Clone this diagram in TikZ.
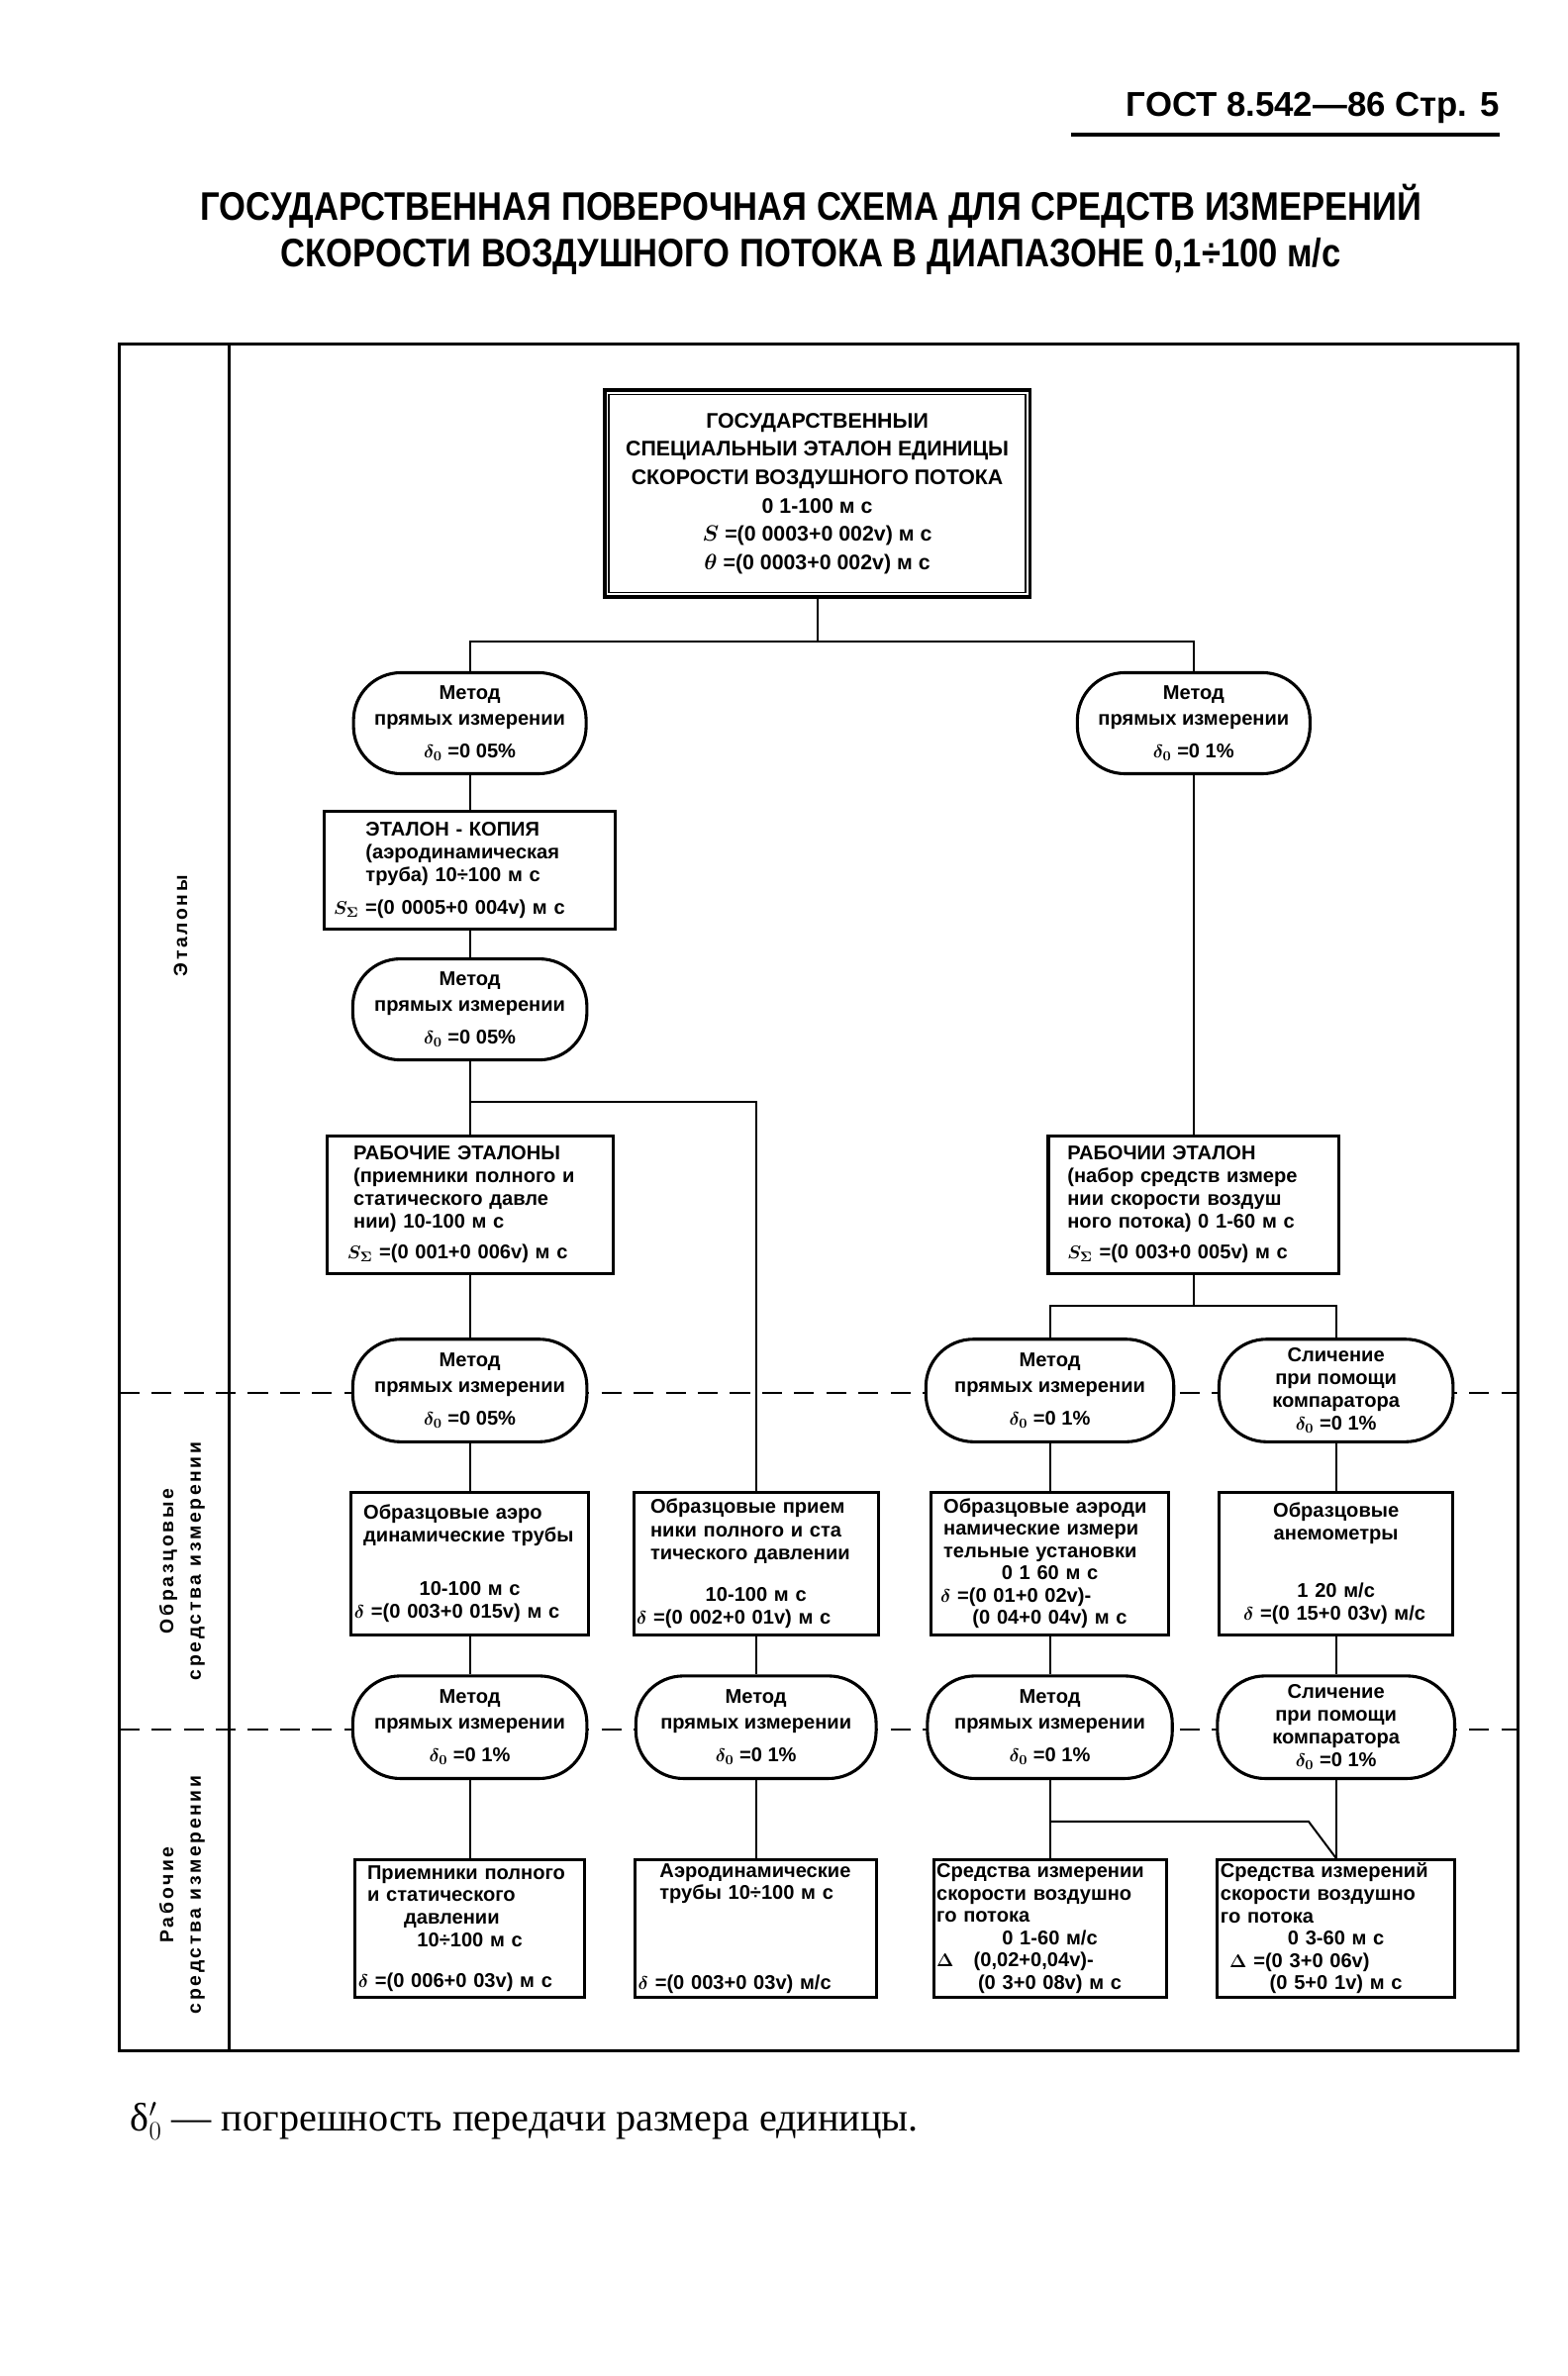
\documentclass[tikz,border=0pt]{standalone}
\usepackage{fontspec}
\setmainfont{Liberation Sans}
\newfontfamily\titlefont{Liberation Sans}[FakeStretch=0.86]
\newfontfamily\footfont{Liberation Serif}
\newfontfamily\labfont{Liberation Sans}[LetterSpace=14]
\newcommand\ctr[1]{\makebox[\hsize][c]{#1}}
\newcommand\bxfont{\fontsize{13}{15}\selectfont\bfseries\boldmath}
\newcommand\bxtight{\fontsize{13}{14.6}\selectfont\bfseries\boldmath}
\newcommand\ovfont{\fontsize{13}{16.5}\selectfont\bfseries\boldmath}
\newcommand\ovtight{\fontsize{13}{14.8}\selectfont\bfseries\boldmath}
\newcommand\topfont{\fontsize{13.8}{18.5}\selectfont\bfseries\boldmath}
\newcommand\labelfont{\labfont\bfseries\fontsize{12.5}{18}\selectfont}
\begin{document}
\begin{tikzpicture}[x=1pt,y=-1pt,
 frame/.style={line width=2pt},
 dashline/.style={line width=1.6pt, dash pattern=on 13pt off 8pt},
 conn/.style={line width=1.3pt},
 bx/.style={draw, rectangle, line width=2pt, fill=white, inner sep=2pt, align=left, font=\bxfont},
 ov/.style={draw, rectangle, rounded corners=31pt, line width=2pt, fill=white, inner sep=0pt, align=center, font=\ovfont, minimum height=66pt},
 topbox/.style={draw, rectangle, line width=2.4pt, fill=white, align=center, font=\topfont, minimum width=278pt, minimum height=135pt},
 rot/.style={rotate=90, align=center, font=\labelfont}
]
\fill[white] (0,0) rectangle (1024,1552.4);
\useasboundingbox (0,0) rectangle (1024,1552.4);

% header
\node[anchor=base east, font=\fontsize{22.5}{24}\selectfont\bfseries, inner sep=0pt] (hdr) at (980,76) {ГОСТ 8.542—86 Стр. 5};
\draw[line width=2.5pt] (700,88) -- (980,88);

% title
\node[align=center, font=\titlefont\bfseries\fontsize{26}{30}\selectfont] (title) at (530,150)
 {ГОСУДАРСТВЕННАЯ ПОВЕРОЧНАЯ СХЕМА ДЛЯ СРЕДСТВ ИЗМЕРЕНИЙ\\СКОРОСТИ ВОЗДУШНОГО ПОТОКА В ДИАПАЗОНЕ 0,1÷100 м/с};

% frame
\draw[frame] (78,225) rectangle (992,1340);
\draw[frame] (150,225) -- (150,1340);
\draw[dashline] (78,910) -- (992,910);
\draw[dashline] (78,1130) -- (992,1130);

% column labels
\node[rot] (lab1) at (118,605) {Эталоны};
\node[rot] (lab2) at (119,1020) {Образцовые\\средства измерении};
\node[rot] (lab3) at (119,1238) {Рабочие\\средства измерении};

% top box
\node[topbox] (top) at (534,322.5) {ГОСУДАРСТВЕННЫИ\\СПЕЦИАЛЬНЫИ ЭТАЛОН ЕДИНИЦЫ\\СКОРОСТИ ВОЗДУШНОГО ПОТОКА\\0 1-100 м с\\$S$ =(0 0003+0 002v) м с\\$\theta$ =(0 0003+0 002v) м с};
\draw[line width=1pt] ([shift={(4,4)}]top.north west) rectangle ([shift={(-4,-4)}]top.south east);

% level 1
\node[ov, minimum width=152pt] (ovA) at (307,472.5) {Метод\\прямых измерении\\[5pt]$\delta_0$ =0 05\%};
\node[ov, minimum width=152pt] (ovB) at (780,472.5) {Метод\\прямых измерении\\[5pt]$\delta_0$ =0 1\%};

\node[bx, minimum width=190pt, minimum height=77pt, text width=184pt] (ek) at (307,568.5)
 {\hspace*{24pt}ЭТАЛОН - КОПИЯ\\\hspace*{24pt}(аэродинамическая\\\hspace*{24pt}труба) 10÷100 м с\\[6pt]\hspace*{3pt}\mbox{$S_\Sigma$ =(0 0005+0 004v) м с}};

\node[ov, minimum width=153pt] (ovC) at (307,659.5) {Метод\\прямых измерении\\[5pt]$\delta_0$ =0 05\%};

\node[bx, minimum width=187pt, minimum height=90pt, text width=182pt] (re) at (307,787)
 {\hspace*{15pt}РАБОЧИЕ ЭТАЛОНЫ\\\hspace*{15pt}(приемники полного и\\\hspace*{15pt}статического давле\\\hspace*{15pt}нии) 10-100 м с\\[5pt]\hspace*{11pt}\mbox{$S_\Sigma$ =(0 001+0 006v) м с}};

\node[bx, minimum width=190pt, minimum height=90pt, text width=185pt] (rw) at (780,787)
 {\hspace*{10pt}РАБОЧИИ ЭТАЛОН\\\hspace*{10pt}(набор средств измере\\\hspace*{10pt}нии скорости воздуш\\\hspace*{10pt}\mbox{ного потока) 0 1-60 м с}\\[5pt]\hspace*{10pt}\mbox{$S_\Sigma$ =(0 003+0 005v) м с}};

% level 2 ovals
\node[ov, minimum width=153pt, minimum height=67pt] (o21) at (307,908.5) {Метод\\прямых измерении\\[5pt]$\delta_0$ =0 05\%};
\node[ov, minimum width=162pt, minimum height=67pt] (o22) at (686,908.5) {Метод\\прямых измерении\\[5pt]$\delta_0$ =0 1\%};
\node[ov, minimum width=153pt, minimum height=67pt, font=\ovtight] (o23) at (873,908.5) {Сличение\\при помощи\\компаратора\\$\delta_0$ =0 1\%};

% level 2 boxes
\node[bx, minimum width=155pt, minimum height=93pt, text width=151pt] (b1) at (307,1021.5)
 {\hspace*{6pt}Образцовые аэро\\\hspace*{6pt}динамические трубы\\[20pt]\ctr{10-100 м с}\\\mbox{$\delta$ =(0 003+0 015v) м с}};
\node[bx, minimum width=160pt, minimum height=93pt, text width=156pt] (b2) at (494,1021.5)
 {\hspace*{9pt}Образцовые прием\\\hspace*{9pt}ники полного и ста\\\hspace*{9pt}тического давлении\\[12pt]\ctr{10-100 м с}\\\mbox{$\delta$ =(0 002+0 01v) м с}};
\node[bx, minimum width=155pt, minimum height=93pt, text width=151pt, font=\bxtight] (b3) at (686,1021.5)
 {\hspace*{6pt}Образцовые аэроди\\\hspace*{6pt}намические измери\\\hspace*{6pt}тельные установки\\\ctr{0 1 60 м с}\\\hspace*{4pt}\mbox{$\delta$ =(0 01+0 02v)-}\\\ctr{(0 04+0 04v) м с}};
\node[bx, minimum width=153pt, minimum height=93pt, text width=149pt] (b4) at (873,1021.5)
 {\ctr{Образцовые}\\\ctr{анемометры}\\[22pt]\ctr{1 20 м/с}\\\hspace*{14pt}\mbox{$\delta$ =(0 15+0 03v) м/с}};

% level 3 ovals
\node[ov, minimum width=153pt, minimum height=67pt] (o31) at (307,1128.5) {Метод\\прямых измерении\\[5pt]$\delta_0$ =0 1\%};
\node[ov, minimum width=157pt, minimum height=67pt] (o32) at (494,1128.5) {Метод\\прямых измерении\\[5pt]$\delta_0$ =0 1\%};
\node[ov, minimum width=160pt, minimum height=67pt] (o33) at (686,1128.5) {Метод\\прямых измерении\\[5pt]$\delta_0$ =0 1\%};
\node[ov, minimum width=155pt, minimum height=67pt, font=\ovtight] (o34) at (873,1128.5) {Сличение\\при помощи\\компаратора\\$\delta_0$ =0 1\%};

% level 3 boxes
\node[bx, minimum width=150pt, minimum height=90pt, text width=146pt, font=\bxtight] (c1) at (307,1260)
 {\hspace*{6pt}Приемники полного\\\hspace*{6pt}и статического\\\hspace*{30pt}давлении\\\ctr{10÷100 м с}\\[12pt]\mbox{$\delta$ =(0 006+0 03v) м с}};
\node[bx, minimum width=158pt, minimum height=90pt, text width=154pt, font=\bxtight] (c2) at (494,1260)
 {\hspace*{14pt}Аэродинамические\\\hspace*{14pt}трубы 10÷100 м с\\[44pt]\mbox{$\delta$ =(0 003+0 03v) м/с}};
\node[bx, minimum width=152pt, minimum height=90pt, text width=148pt, font=\bxtight] (c3) at (686,1260)
 {Средства измерении\\скорости воздушно\\го потока\\\ctr{0 1-60 м/с}\\\mbox{$\Delta$\quad(0,02+0,04v)-}\\\ctr{(0 3+0 08v) м с}};
\node[bx, minimum width=155pt, minimum height=90pt, text width=151pt, font=\bxtight] (c4) at (873,1260)
 {Средства измерений\\скорости воздушно\\го потока\\\ctr{0 3-60 м с}\\\hspace*{6pt}$\Delta$ =(0 3+0 06v)\\\ctr{(0 5+0 1v) м с}};

% connectors
\path (top.south) ++(0,28) coordinate (j1);
\draw[conn] (top.south) -- (j1);
\draw[conn] (j1) -| (ovA.north);
\draw[conn] (j1) -| (ovB.north);
\draw[conn] (ovA.south) -- (ek.north);
\draw[conn] (ek.south) -- (ovC.north);
\draw[conn] (ovC.south) -- (re.north);
\coordinate (j2) at (307,720);
\draw[conn] (j2) -| (b2.north);
\draw[conn] (ovB.south) -- (rw.north);
\coordinate (j3) at (780,853);
\draw[conn] (rw.south) -- (j3);
\draw[conn] (j3) -| (o22.north);
\draw[conn] (j3) -| (o23.north);
\draw[conn] (re.south) -- (o21.north);
\draw[conn] (o21.south) -- (b1.north);
\draw[conn] (o22.south) -- (b3.north);
\draw[conn] (o23.south) -- (b4.north);
\draw[conn] (b1.south) -- (o31.north);
\draw[conn] (b2.south) -- (o32.north);
\draw[conn] (b3.south) -- (o33.north);
\draw[conn] (b4.south) -- (o34.north);
\draw[conn] (o31.south) -- (c1.north);
\draw[conn] (o32.south) -- (c2.north);
\draw[conn] (o33.south) -- (c3.north);
\draw[conn] (o34.south) -- (c4.north);
\coordinate (j4) at (686,1190);
\coordinate (k4) at (855,1190);
\draw[conn] (j4) -- (k4) -- (c4.north);

% footer
\node[anchor=base west, inner sep=0pt, font=\footfont\fontsize{26}{30}\selectfont] (foot) at (85,1392) {δ$'_{0}$ — погрешность передачи размера единицы.};
\end{tikzpicture}
\end{document}
